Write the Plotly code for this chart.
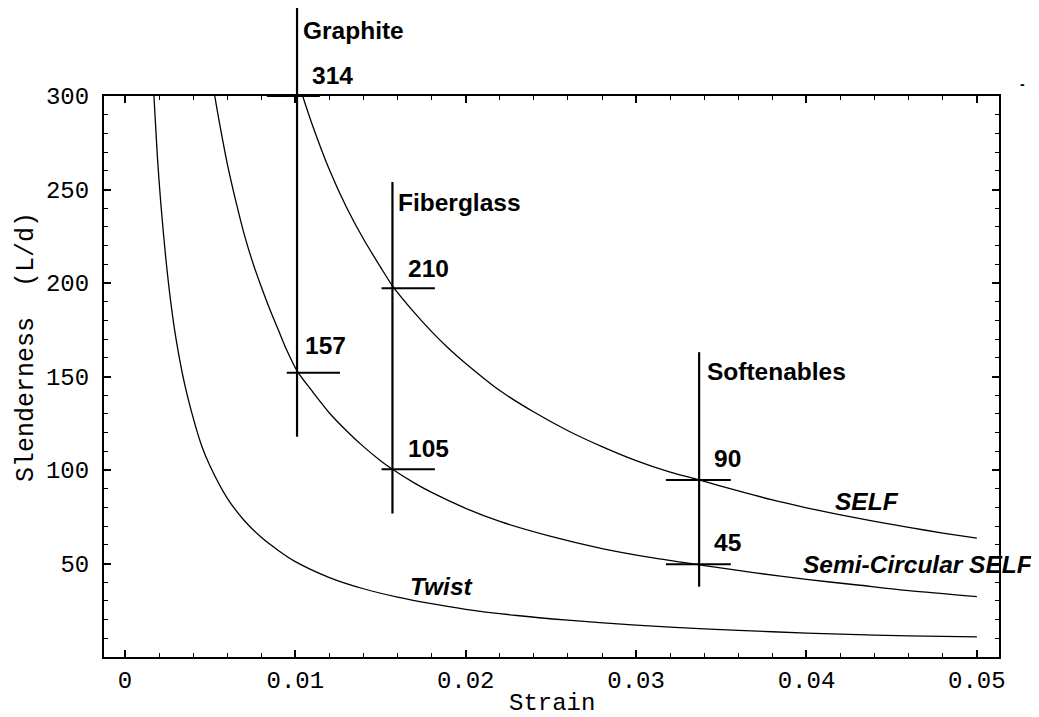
import plotly.graph_objects as go

# ---- data ----
self_x = [0.01043, 0.011, 0.012, 0.013, 0.014, 0.015, 0.0157, 0.017, 0.018, 0.019, 0.02, 0.022, 0.024,
          0.026, 0.028, 0.03, 0.032, 0.0337, 0.036, 0.038, 0.04, 0.042, 0.044, 0.046, 0.048, 0.05]
self_y = [300, 284.5, 260.5, 240.5, 223.5, 208.5, 198.5, 184, 174, 165, 157, 142.5, 131,
          121, 112.5, 105, 98.8, 94.7, 88.8, 84, 79.8, 76, 72.5, 69.3, 66.3, 63.6]

semi_x = [0.00527, 0.0055, 0.006, 0.0065, 0.007, 0.0075, 0.008, 0.0085, 0.009, 0.0095, 0.0101, 0.011,
          0.012, 0.013, 0.014, 0.015, 0.0157, 0.017, 0.018, 0.02, 0.022, 0.025, 0.028, 0.031, 0.0337,
          0.037, 0.04, 0.043, 0.046, 0.05]
semi_y = [300, 288, 264, 244, 226, 211, 198, 186, 175, 164, 153, 142,
          130.5, 121, 112.5, 105, 100.4, 93, 88, 79.5, 72.5, 64.5, 58, 53, 49.3,
          45, 41.5, 38.5, 35.5, 32.3]

twist_x = [0.0017, 0.0019, 0.0021, 0.0024, 0.0027, 0.003, 0.0035, 0.004, 0.0045, 0.005, 0.006,
           0.007, 0.008, 0.009, 0.01, 0.012, 0.014, 0.016, 0.018, 0.02, 0.023, 0.026, 0.03,
           0.034, 0.038, 0.042, 0.046, 0.05]
twist_y = [300, 268, 243, 213, 189, 170, 146, 128, 113, 102, 85,
           73, 64, 57, 51, 42.5, 36.5, 32, 28.5, 25.5, 22.2, 19.7, 17,
           15, 13.5, 12.2, 11.3, 10.8]

# material markers: vertical range lines
materials = ["Graphite", "Fiberglass", "Softenables"]
mat_x = [0.0101, 0.0157, 0.0337]
mat_bottom = [117.8, 76.8, 37.6]
mat_top = [347, 254, 163]

# horizontal value marks
mark_labels = ["314", "157", "210", "105", "90", "45"]
mark_x0 = [0.00833, 0.0095, 0.01506, 0.01506, 0.03175, 0.03175]
mark_x1 = [0.01144, 0.01262, 0.01819, 0.01819, 0.03556, 0.03556]
mark_y = [300, 152, 197.2, 100.4, 94.7, 49.6]

# label positions
mark_label_x = [0.01086, 0.01045, 0.01647, 0.01647, 0.03443, 0.03443]
mark_label_y = [311.2, 166.5, 208, 111.6, 106.4, 61]
mat_label_x = [0.01033, 0.0159, 0.03404]
mat_label_y = [334.8, 242.8, 152.6]

curve_names = ["SELF", "Semi-Circular SELF", "Twist"]
curve_label_x = [0.04155, 0.0397, 0.01661]
curve_label_y = [83, 49.2, 37.8]

x_ticks = [0, 0.01, 0.02, 0.03, 0.04, 0.05]
x_ticktext = ["0", "0.01", "0.02", "0.03", "0.04", "0.05"]
y_ticks = [50, 100, 150, 200, 250, 300]
y_minor = [v for v in range(10, 300, 10) if v % 50 != 0]
x_minor = [i * 0.002 for i in range(0, 26) if i % 5 != 0]

X_RANGE = [-0.00123, 0.0513]
Y_RANGE = [0, 300]


def xd(v):
    return (v - X_RANGE[0]) / (X_RANGE[1] - X_RANGE[0])


def yd(v):
    return (v - Y_RANGE[0]) / (Y_RANGE[1] - Y_RANGE[0])


fig = go.Figure()
for xs, ys in [(self_x, self_y), (semi_x, semi_y), (twist_x, twist_y)]:
    fig.add_trace(go.Scatter(x=xs, y=ys, mode="lines",
                             line=dict(color="black", width=1.3, shape="spline", smoothing=0.8),
                             hoverinfo="skip", showlegend=False))

hx, hy = [], []
for a, b, y in zip(mark_x0, mark_x1, mark_y):
    if y >= Y_RANGE[1]:
        continue
    hx += [a, b, None]
    hy += [y, y, None]
fig.add_trace(go.Scatter(x=hx, y=hy, mode="lines", line=dict(color="black", width=2), showlegend=False,
                         hoverinfo="skip"))

shapes = []
for x, b, t in zip(mat_x, mat_bottom, mat_top):
    shapes.append(dict(type="line", xref="x", yref="y domain", x0=x, x1=x, y0=yd(b), y1=yd(t),
                       line=dict(color="black", width=2.2)))
for a, b, y in zip(mark_x0, mark_x1, mark_y):
    if y >= Y_RANGE[1]:
        shapes.append(dict(type="line", xref="x", yref="y domain", x0=a, x1=b, y0=yd(y), y1=yd(y),
                           line=dict(color="black", width=2)))

FAM = "Liberation Sans, Arial, sans-serif"
MONO = "Liberation Mono, Courier New, monospace"
bold = dict(family=FAM, size=24.5, color="black", weight="bold")
annotations = []


def add_label(text, x, y, font, **kw):
    d = dict(text=text, x=xd(x), y=yd(y), xref="x domain", yref="y domain", xanchor="left",
             yanchor="middle", showarrow=False, font=font)
    d.update(kw)
    annotations.append(d)


for t, x, y in zip(materials, mat_label_x, mat_label_y):
    add_label(t, x, y, bold)
for t, x, y in zip(mark_labels, mark_label_x, mark_label_y):
    add_label(t, x, y, bold)
for t, x, y in zip(curve_names, curve_label_x, curve_label_y):
    add_label(t, x, y, dict(family=FAM, size=24.5, color="black", weight="bold", style="italic"))
add_label("Slenderness  (L/d)", -0.00575, 165.8, dict(family=MONO, size=25, color="black"),
          xanchor="center", textangle=-90)
add_label("Strain", (X_RANGE[0] + X_RANGE[1]) / 2, -24.6, dict(family=MONO, size=24, color="black"),
          xanchor="center", borderpad=0)
add_label("-", 0.0527, 306.4, dict(family=FAM, size=14, color="black", weight="bold"), xanchor="center")

mono = dict(family=MONO, size=24, color="black")
# page body has an 8px default margin, so the figure is sized to fit the 1039x717 window
fig.update_layout(
    width=1031, height=709,
    margin=dict(l=96, r=40, t=88, b=60),
    plot_bgcolor="white", paper_bgcolor="white",
    shapes=shapes, annotations=annotations,
    xaxis=dict(range=X_RANGE, tickvals=x_ticks, ticktext=x_ticktext, ticks="inside", ticklen=7,
               tickwidth=1.5, tickcolor="black", showline=True, linecolor="black", linewidth=2,
               mirror="ticks", showgrid=False, zeroline=False, tickfont=mono, ticklabelstandoff=0,
               automargin=False,
               minor=dict(tickvals=x_minor, ticks="inside", ticklen=4, tickwidth=1.2, tickcolor="black",
                          showgrid=False)),
    yaxis=dict(range=Y_RANGE, tickvals=y_ticks, ticks="inside", ticklen=7,
               tickwidth=1.5, tickcolor="black", showline=True, linecolor="black", linewidth=2,
               mirror="ticks", showgrid=False, zeroline=False, tickfont=mono, ticklabelstandoff=8,
               automargin=False,
               minor=dict(tickvals=y_minor, ticks="inside", ticklen=4, tickwidth=1.2, tickcolor="black",
                          showgrid=False)),
)

fig.write_html("out.html")
